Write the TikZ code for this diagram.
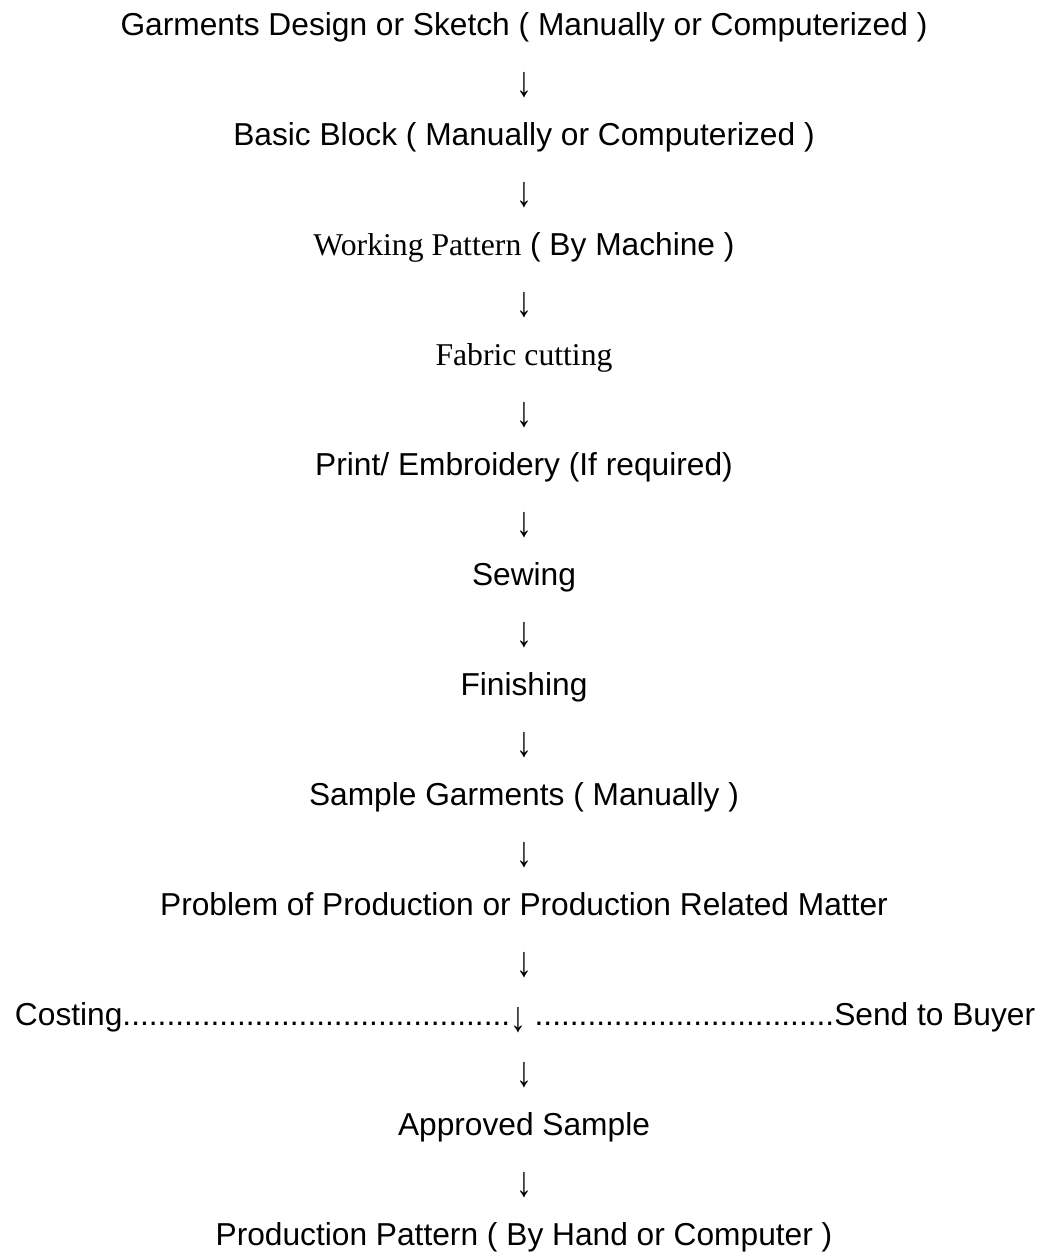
\documentclass[tikz,border=0pt]{standalone}
\usepackage{fontspec}
\setmainfont{Liberation Sans}
\newfontfamily\timesfont{Liberation Serif}
% tall thin down arrow as in the source text
\newcommand{\downarr}{\raisebox{-6bp}{\scalebox{1}[1.35]{↓}}}
\tikzset{
    stage/.style = {anchor=base, inner sep=0pt},
    flowarrow/.style = {anchor=base, inner sep=0pt},
}

\begin{document}
\begin{tikzpicture}[x=1bp, y=-1bp, font=\fontsize{31.7bp}{38bp}\selectfont]
  \useasboundingbox (0,0) rectangle (1046,1257);

  \node[stage] (design) at (524,35) {Garments Design or Sketch ( Manually or Computerized )};
  \node[flowarrow] (a1) at (524,90) {\downarr};
  \node[stage] (block) at (524,145) {Basic Block ( Manually or Computerized )};
  \node[flowarrow] (a2) at (524,200) {\downarr};
  \node[stage] (working) at (524,255) {{\timesfont Working Pattern} ( By Machine )};
  \node[flowarrow] (a3) at (524,310) {\downarr};
  \node[stage] (cutting) at (524,365) {\timesfont Fabric cutting};
  \node[flowarrow] (a4) at (524,420) {\downarr};
  \node[stage] (print) at (524,475) {Print/ Embroidery (If required)};
  \node[flowarrow] (a5) at (524,530) {\downarr};
  \node[stage] (sewing) at (524,585) {Sewing};
  \node[flowarrow] (a6) at (524,640) {\downarr};
  \node[stage] (finishing) at (524,695) {Finishing};
  \node[flowarrow] (a7) at (524,750) {\downarr};
  \node[stage] (sample) at (524,805) {Sample Garments ( Manually )};
  \node[flowarrow] (a8) at (524,860) {\downarr};
  \node[stage] (problem) at (524,915) {Problem of Production or Production Related Matter};
  \node[flowarrow] (a9) at (524,970) {\downarr};
  \node[stage] (costing) at (525,1025) {Costing............................................\downarr{} ..................................Send to Buyer};
  \node[flowarrow] (a10) at (524,1080) {\downarr};
  \node[stage] (approved) at (524,1135) {Approved Sample};
  \node[flowarrow] (a11) at (524,1190) {\downarr};
  \node[stage] (production) at (524,1245) {Production Pattern ( By Hand or Computer )};

\end{tikzpicture}
\end{document}
